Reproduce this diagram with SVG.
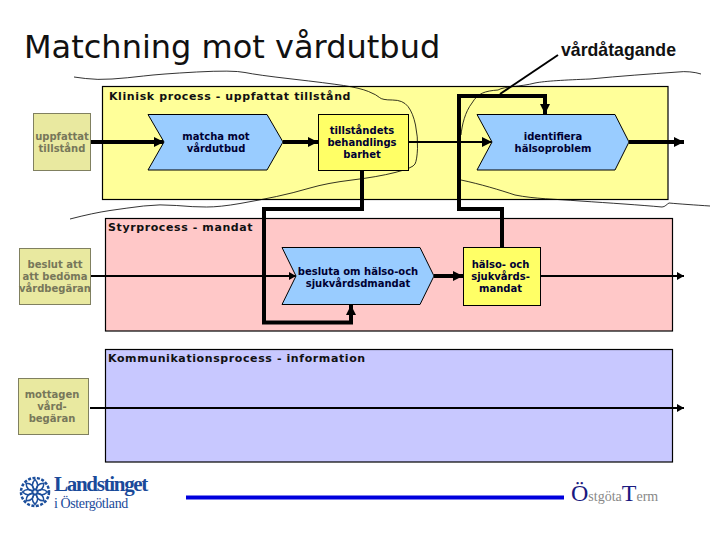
<svg xmlns="http://www.w3.org/2000/svg" width="720" height="540" viewBox="0 0 720 540">
<style>
text{font-family:"DejaVu Sans","Liberation Sans",sans-serif}
.panel{stroke:#000;stroke-width:1.2}
.chev{fill:#99ccff;stroke:#000;stroke-width:1}
.res{fill:#ffff66;stroke:#000;stroke-width:1}
.inp{fill:#e9e9a0;stroke:#808060;stroke-width:1}
.lbl{font-size:10px;font-weight:bold;fill:#000033;text-anchor:middle}
.il{font-size:10px;font-weight:bold;fill:#77775a;text-anchor:middle}
.pt{font-size:11px;font-weight:bold;fill:#111;letter-spacing:.6px}
.thick{fill:none;stroke:#000;stroke-width:4}
.thin{fill:none;stroke:#000;stroke-width:2}
.fat{fill:none;stroke:#000;stroke-width:4;stroke-linejoin:miter}
.curve{fill:none;stroke:#000;stroke-width:.8}
.petal{fill:none;stroke:#1c4f9c;stroke-width:1.500}
</style>
<defs>
<marker id="a" markerUnits="userSpaceOnUse" markerWidth="12" markerHeight="12" refX="10" refY="6" orient="auto"><path d="M0 1L10 6L0 11Z" fill="#000"/></marker>
<marker id="b" markerUnits="userSpaceOnUse" markerWidth="8" markerHeight="10" refX="7" refY="5" orient="auto"><path d="M0 1L7 5L0 9Z" fill="#000"/></marker>
<path id="p" class="petal" d="M0 -2C-3.500 -5 -3.500 -9 0 -12.500C3.500 -9 3.500 -5 0 -2Z"/>
</defs>
<text x="24" y="58" style="font-size:32px;fill:#111" id="title">Matchning mot vårdutbud</text>
<g id="panel-klinisk"><rect class="panel" x="102.5" y="86.5" width="565.5" height="113" fill="#ffff99"/><text class="pt" x="109" y="100">Klinisk process - uppfattat tillstånd</text></g>
<g id="panel-styr"><rect class="panel" x="105.5" y="218.5" width="567" height="112.5" fill="#ffc8c8"/><text class="pt" x="108" y="231">Styrprocess - mandat</text></g>
<g id="panel-komm"><rect class="panel" x="105.5" y="349.5" width="567" height="112.5" fill="#c8c8ff"/><text class="pt" x="108" y="362">Kommunikationsprocess - information</text></g>
<g id="curves">
<path class="curve" d="M74 77L85.500 78.500Q97 80 112 79Q127 78 143.500 76Q160 74 196.500 72Q233 70 245 72.500Q257 75 292 79Q327 83 343.500 85.500Q360 88 368.500 91.500Q377 95 379.500 97.500Q382 100 392.500 100Q403 100 408 106.500Q413 113 415.500 125Q418 137 417.500 148.500Q417 160 415 164Q413 168 395 172.500Q377 177 352 180Q327 183 310 188Q293 193 276.500 196.500Q260 200 240 203.500Q220 207 206.500 207Q193 207 176.500 205.500Q160 204 143.500 206Q127 208 110 210.500Q93 213 70 219"/>
<path class="curve" d="M701 74C695 72 685 71 678 72C650 74 620 76 590 79C565 80 545 81 535 83C520 87 505 86 498 90C485 91 478 93 472 103C465 112 462 125 461 135"/>
<path class="curve" d="M461 180C480 184 500 190 515 195C535 199 555 199 580 201C610 203 640 205 662 207C665 207 667 204 669 203C680 204 695 205 710 206"/>
</g>
<g id="connectors">
<path class="thick" d="M90.500 142H164" marker-end="url(#a)"/>
<path class="thick" d="M283 142H318" marker-end="url(#a)"/>
<path class="thin" d="M409 142H492" marker-end="url(#a)"/>
<path class="thick" d="M629 142H684" marker-end="url(#a)"/>
<path class="thin" d="M90.500 276H296" marker-end="url(#b)"/>
<path class="thick" d="M434 276H463" marker-end="url(#a)"/>
<path class="thin" d="M540 276H684" marker-end="url(#b)"/>
<path class="thin" d="M90 408H684" marker-end="url(#b)"/>
<path class="fat" d="M502 247V209H459V96H545V114" marker-end="url(#a)"/>
<path class="fat" d="M362 170V209H264V322.500H351V305" marker-end="url(#a)"/>
<path fill="none" stroke="#000" stroke-width="2" d="M558 55L500 94"/>
</g>
<g id="node-uppfattat"><rect class="inp" x="33.500" y="113.500" width="57" height="57"/><text class="il" x="62" y="140">uppfattat</text><text class="il" x="62" y="152">tillstånd</text></g>
<g id="node-matcha"><path class="chev" d="M148 114.500H267L283 142L267 170H148L164 142Z"/><text class="lbl" x="216" y="140">matcha mot</text><text class="lbl" x="216" y="152">vårdutbud</text></g>
<g id="node-tillstandets"><rect class="res" x="318.500" y="114.500" width="90" height="56"/><text class="lbl" x="362" y="134">tillståndets</text><text class="lbl" x="362" y="146">behandlings</text><text class="lbl" x="362" y="158">barhet</text></g>
<g id="node-identifiera"><path class="chev" d="M477 114.500H615L629 142L615 170H477L492 142Z"/><text class="lbl" x="553" y="140">identifiera</text><text class="lbl" x="553" y="152">hälsoproblem</text></g>
<g id="node-beslut"><rect class="inp" x="19.500" y="248.500" width="71" height="56"/><text class="il" x="55" y="268">beslut att</text><text class="il" x="55" y="280">att bedöma</text><text class="il" x="55" y="292">vårdbegäran</text></g>
<g id="node-besluta"><path class="chev" d="M282 247.500H420L434 276L420 304.500H282L296 276Z"/><text class="lbl" x="358" y="275">besluta om hälso-och</text><text class="lbl" x="358" y="287">sjukvårdsdmandat</text></g>
<g id="node-halso"><rect class="res" x="463.500" y="247.500" width="77" height="58"/><text class="lbl" x="500.500" y="268">hälso- och</text><text class="lbl" x="500.500" y="280">sjukvårds-</text><text class="lbl" x="500.500" y="292">mandat</text></g>
<g id="node-mottagen"><rect class="inp" x="18.500" y="378.500" width="70" height="56"/><text class="il" x="52" y="398">mottagen</text><text class="il" x="52" y="410">vård-</text><text class="il" x="52" y="422">begäran</text></g>
<text x="561" y="56" style="font-size:17.700px;font-weight:bold;fill:#111;font-family:'Liberation Sans',sans-serif" id="vardatagande">vårdåtagande</text>
<g id="logo">
<circle cx="35" cy="492" r="14" fill="none" stroke="#1c4f9c" stroke-width="2.500" stroke-dasharray="3 1.500"/>
<g transform="translate(35 492)"><use href="#p"/><use href="#p" transform="rotate(45)"/><use href="#p" transform="rotate(90)"/><use href="#p" transform="rotate(135)"/><use href="#p" transform="rotate(180)"/><use href="#p" transform="rotate(225)"/><use href="#p" transform="rotate(270)"/><use href="#p" transform="rotate(315)"/></g>
<text x="54" y="491" style="font-family:'Liberation Serif',serif;font-size:21px;font-weight:bold;fill:#1a4a9a;letter-spacing:-1.300px">Landstinget</text>
<text x="54" y="508" style="font-family:'Liberation Serif',serif;font-size:14px;fill:#1a4a9a;letter-spacing:-.4px">i Östergötland</text>
</g>
<path id="rule" d="M186 497.500H564" stroke="#0000dd" stroke-width="4" fill="none"/>
<text id="ostgota" x="571" y="501" style="font-family:'Liberation Serif',serif;font-size:14px;fill:#888"><tspan style="font-size:24px;fill:#1a1a80">Ö</tspan>stgöta<tspan style="font-size:24px;fill:#1a1a80">T</tspan>erm</text>
</svg>
